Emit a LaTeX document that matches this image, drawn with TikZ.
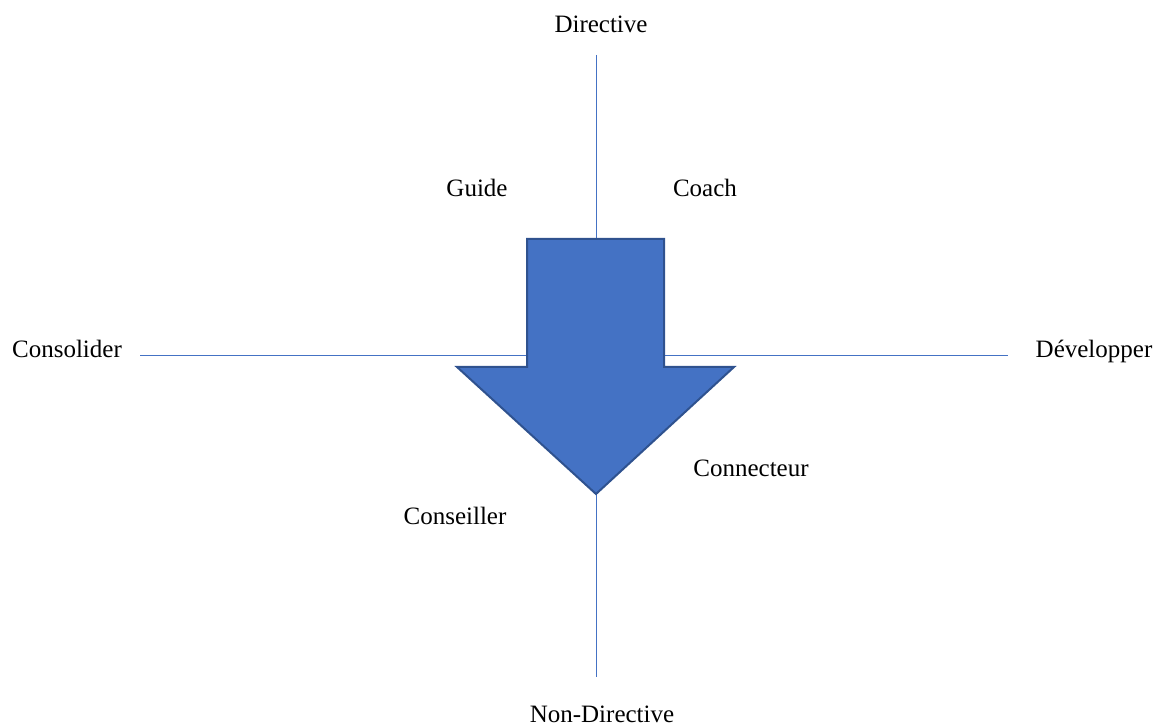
\documentclass[tikz,border=0pt]{standalone}
\usepackage{fontspec}
\setmainfont{Liberation Serif}
\usepackage{tikz}

\definecolor{axisblue}{HTML}{4472C4}
\definecolor{arrowfill}{HTML}{4472C4}
\definecolor{arrowline}{HTML}{2F528F}

\begin{document}
\begin{tikzpicture}[x=0.5pt, y=-0.5pt,
                        label node/.style={anchor=base, inner sep=0pt, font=\fontsize{12.5}{15}\selectfont},
                        axis line/.style={draw=axisblue, line width=0.5pt},
                        big arrow/.style={fill=arrowfill, draw=arrowline, line width=1pt, line join=miter}]

        \useasboundingbox (0,0) rectangle (1158,727);

        % axes
        \coordinate (top) at (596,55);
        \coordinate (bottom) at (596,677);
        \coordinate (left) at (140,356);
        \coordinate (right) at (1008,356);
        \draw[axis line] (top) -- (bottom);
        \draw[axis line] (left) -- (right);

        % arrow
        \draw[big arrow] (527,239) -- (664,239) -- (664,367) -- (734,367)
          -- (596,494) -- (457,367) -- (527,367) -- cycle;

        % labels
        \node[label node] (directive) at (601,33) {Directive};
        \node[label node] (nondirective) at (602,722) {Non-Directive};
        \node[label node] (consolider) at (67,358) {Consolider};
        \node[label node] (developper) at (1094,358) {Développer};
        \node[label node] (guide) at (477,197) {Guide};
        \node[label node] (coach) at (705,197) {Coach};
        \node[label node] (connecteur) at (751,477) {Connecteur};
        \node[label node] (conseiller) at (455,524) {Conseiller};
    \end{tikzpicture}
\end{document}
